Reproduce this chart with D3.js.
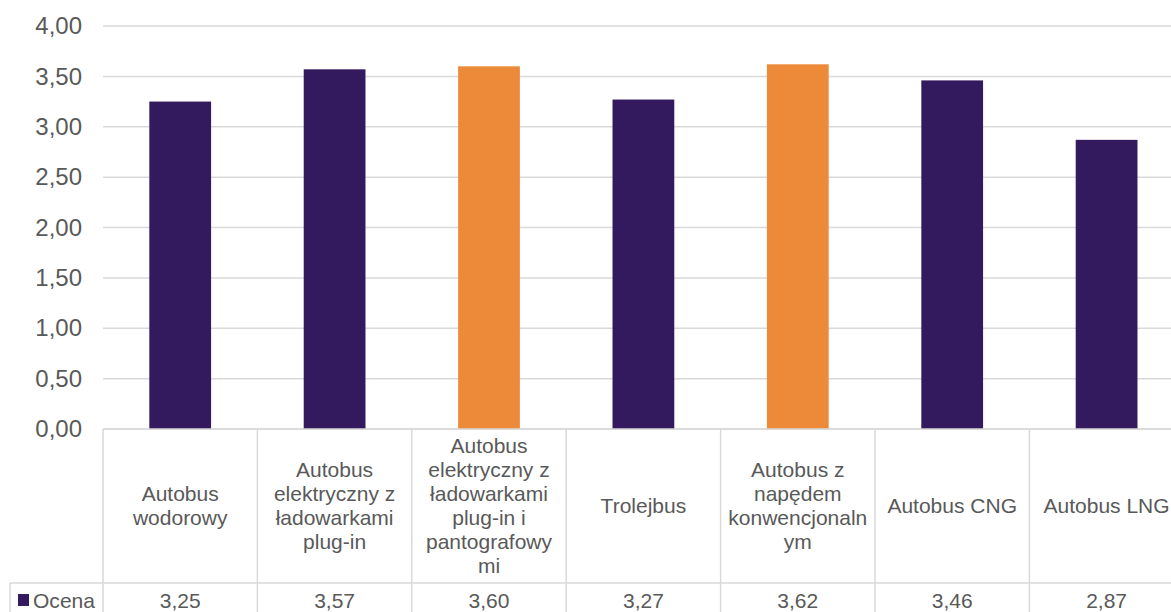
<!DOCTYPE html>
<html lang="pl">
<head>
<meta charset="utf-8">
<script src="https://cdn.jsdelivr.net/npm/d3@7/dist/d3.min.js"></script>
<style>
  html, body { margin: 0; padding: 0; background: #fff; }
  svg { display: block; font-family: "Liberation Sans", Arial, sans-serif; }
</style>
</head>
<body>
<svg id="chart" width="1171" height="612"></svg>
<script>
// Kategorie (wiersze etykiet w tabeli danych)
const categories = [
  "Autobus wodorowy",
  "Autobus elektryczny z ładowarkami plug-in",
  "Autobus elektryczny z ładowarkami plug-in i pantografowymi",
  "Trolejbus",
  "Autobus z napędem konwencjonalnym",
  "Autobus CNG",
  "Autobus LNG"
];
const categoryLines = [
  ["Autobus", "wodorowy"],
  ["Autobus", "elektryczny z", "ładowarkami", "plug-in"],
  ["Autobus", "elektryczny z", "ładowarkami", "plug-in i", "pantografowy", "mi"],
  ["Trolejbus"],
  ["Autobus z", "napędem", "konwencjonaln", "ym"],
  ["Autobus CNG"],
  ["Autobus LNG"]
];
const seriesName = "Ocena";
const values = [3.25, 3.57, 3.60, 3.27, 3.62, 3.46, 2.87];
const highlighted = [false, false, true, false, true, false, false];
const yTicks = [0, 0.5, 1, 1.5, 2, 2.5, 3, 3.5, 4];

const fmt = v => v.toFixed(2).replace(".", ",");

const svg = d3.select("#chart");
const textColor = "#595959";
const gridColor = "#D9D9D9";
const purple = "#33195E";
const orange = "#ED8A3A";

const plotLeft = 103, plotTop = 26, plotBottom = 429;
const bandW = 154.4;
const tableRowY = 583, tableBottom = 640;

const x = d3.scaleBand()
  .domain(categories)
  .range([plotLeft, plotLeft + bandW * categories.length])
  .padding(0);
const y = d3.scaleLinear().domain([0, 4]).range([plotBottom, plotTop]);
const plotRight = plotLeft + bandW * categories.length;

// Linie siatki
svg.append("g")
  .selectAll("line")
  .data(yTicks)
  .join("line")
  .attr("x1", plotLeft).attr("x2", plotRight)
  .attr("y1", d => y(d)).attr("y2", d => y(d))
  .attr("stroke", gridColor).attr("stroke-width", 1.5);

// Oś Y
const yAxis = d3.axisLeft(y).tickValues(yTicks).tickFormat(fmt).tickSize(0).tickPadding(0);
const gy = svg.append("g").attr("transform", `translate(${plotLeft - 21},0)`).call(yAxis);
gy.select(".domain").remove();
gy.selectAll("text")
  .attr("fill", textColor)
  .style("font-size", "24px")
  .style("font-family", "'Liberation Sans', Arial, sans-serif");

// Słupki
const bw = x.bandwidth() * 0.4;
svg.append("g")
  .selectAll("rect")
  .data(categories)
  .join("rect")
  .attr("x", d => x(d) + (x.bandwidth() - bw) / 2)
  .attr("width", bw)
  .attr("y", (d, i) => y(values[i]))
  .attr("height", (d, i) => y(0) - y(values[i]))
  .attr("fill", (d, i) => highlighted[i] ? orange : purple);

// Tabela danych
const table = svg.append("g").attr("stroke", gridColor).attr("stroke-width", 1.5);
table.append("line")
  .attr("x1", plotLeft).attr("x2", plotRight)
  .attr("y1", plotBottom).attr("y2", plotBottom);
table.append("line")
  .attr("x1", 10).attr("x2", plotRight)
  .attr("y1", tableRowY).attr("y2", tableRowY);
table.selectAll("line.v")
  .data(categories.concat(["_end"]))
  .join("line")
  .attr("class", "v")
  .attr("x1", (d, i) => plotLeft + i * x.bandwidth())
  .attr("x2", (d, i) => plotLeft + i * x.bandwidth())
  .attr("y1", plotBottom).attr("y2", tableBottom);
table.append("line")
  .attr("x1", 10).attr("x2", 10)
  .attr("y1", tableRowY).attr("y2", tableBottom);

// Etykiety kategorii
const lineH = 24;
const cellMid = (plotBottom + tableRowY) / 2;
svg.append("g")
  .selectAll("text")
  .data(categories)
  .join("text")
  .attr("text-anchor", "middle")
  .attr("fill", textColor)
  .style("font-size", "21px")
  .each(function (d, i) {
    const lines = categoryLines[i];
    const cx = x(d) + x.bandwidth() / 2;
    const startY = cellMid - (lines.length - 1) * lineH / 2;
    d3.select(this).selectAll("tspan")
      .data(lines)
      .join("tspan")
      .attr("x", cx)
      .attr("y", (l, j) => startY + j * lineH)
      .attr("dy", "0.35em")
      .text(l => l);
  });

// Wiersz wartości
svg.append("g")
  .selectAll("text")
  .data(categories)
  .join("text")
  .attr("x", d => x(d) + x.bandwidth() / 2)
  .attr("y", 601)
  .attr("dy", "0.35em")
  .attr("text-anchor", "middle")
  .attr("fill", textColor)
  .style("font-size", "21px")
  .text((d, i) => fmt(values[i]));

// Legenda w tabeli (nazwa serii zwężona, by zmieścić się w komórce)
svg.append("rect")
  .attr("x", 18).attr("y", 594).attr("width", 11).attr("height", 12)
  .attr("fill", purple);
svg.append("text")
  .attr("x", 33).attr("y", 601).attr("dy", "0.35em")
  .attr("fill", textColor)
  .style("font-size", "21px")
  .attr("textLength", 62)
  .attr("lengthAdjust", "spacingAndGlyphs")
  .text(seriesName);
</script>
</body>
</html>
